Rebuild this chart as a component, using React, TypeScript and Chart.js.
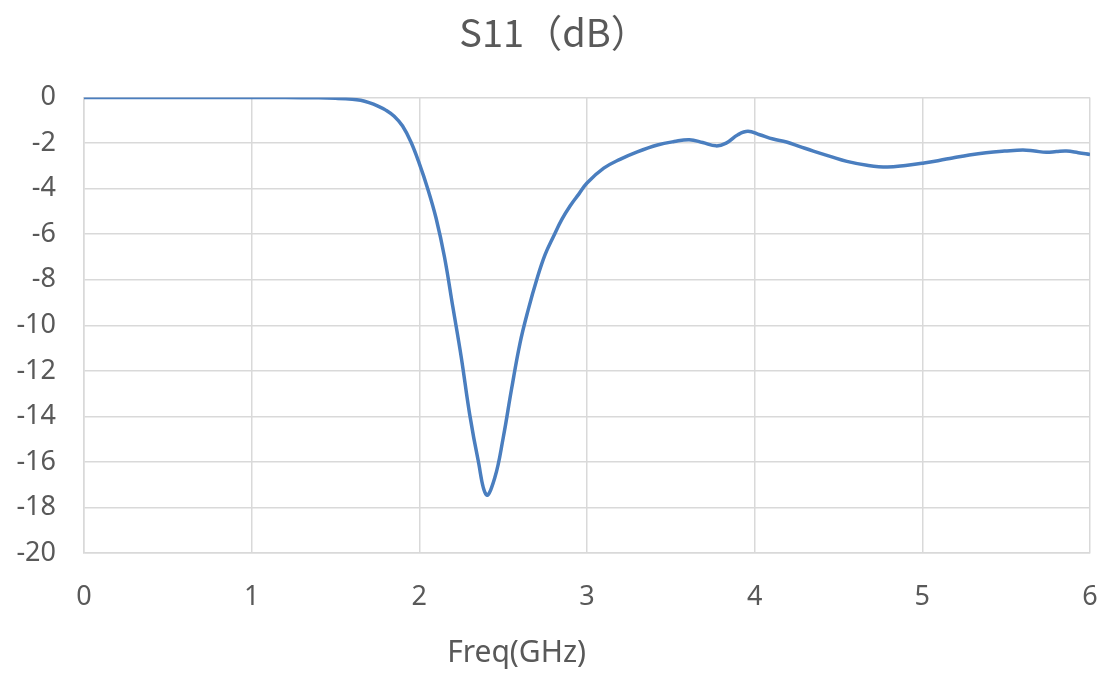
import React, { useEffect, useRef } from "react";
import { Chart, registerables } from "chart.js";

Chart.register(...registerables);

const freqGHz: number[] = [
  0, 0.4, 0.8, 1.2, 1.4, 1.5, 1.6, 1.65, 1.7, 1.75, 1.8, 1.85, 1.9, 1.95, 2.0, 2.05, 2.1,
  2.15, 2.2, 2.25, 2.3, 2.35, 2.4, 2.45, 2.5, 2.55, 2.6, 2.65, 2.7, 2.75, 2.8, 2.85, 2.9,
  2.95, 3.0, 3.1, 3.2, 3.3, 3.42, 3.52, 3.61, 3.69, 3.77, 3.83, 3.9, 3.96, 4.03, 4.11, 4.19,
  4.27, 4.35, 4.45, 4.55, 4.67, 4.79, 4.9, 5.01, 5.1, 5.18, 5.28, 5.38, 5.49, 5.6, 5.67,
  5.74, 5.8, 5.86, 5.93, 6.0,
];
const s11dB: number[] = [
  0, 0, 0, 0, -0.01, -0.03, -0.07, -0.12, -0.22, -0.36, -0.55, -0.82, -1.25, -1.95, -2.9,
  -4.0, -5.3, -7.0, -9.2, -11.4, -13.9, -15.9, -17.45, -16.7, -14.95, -12.8, -10.8, -9.3,
  -8.0, -6.9, -6.1, -5.35, -4.75, -4.25, -3.75, -3.1, -2.7, -2.38, -2.08, -1.93, -1.85,
  -1.97, -2.12, -2.0, -1.63, -1.48, -1.63, -1.82, -1.95, -2.15, -2.35, -2.58, -2.8, -2.97,
  -3.05, -2.98, -2.87, -2.76, -2.65, -2.52, -2.42, -2.35, -2.3, -2.35, -2.4, -2.37, -2.35,
  -2.42, -2.5,
];

const titleText = "S11（dB）";
const xAxisTitle = "Freq(GHz)";

const textColor = "#595959";
const gridColor = "#d9d9d9";
const lineColor = "#4a7ebf";
const tickFont = "'Noto Sans', 'DejaVu Sans', sans-serif";

const axisTitlePlugin = {
  id: "xAxisTitleText",
  afterDraw(chart: any) {
    const { ctx, chartArea } = chart;
    ctx.save();
    ctx.fillStyle = textColor;
    ctx.font = `30px ${tickFont}`;
    ctx.textAlign = "center";
    ctx.textBaseline = "middle";
    ctx.fillText(xAxisTitle, chartArea.left + chartArea.width * 0.43, chartArea.bottom + 100);
    ctx.restore();
  },
};

export default function App() {
  const canvasRef = useRef<HTMLCanvasElement | null>(null);

  useEffect(() => {
    if (!canvasRef.current) return;
    const points = freqGHz.map((f, i) => ({ x: f, y: s11dB[i] }));
    const chart = new Chart(canvasRef.current, {
      type: "line",
      data: {
        datasets: [
          {
            label: "S11",
            data: points,
            borderColor: lineColor,
            borderWidth: 3.5,
            pointRadius: 0,
            tension: 0.4,
            fill: false,
          },
        ],
      },
      options: {
        responsive: false,
        animation: false,
        layout: { padding: { left: 0, right: 0, top: 0, bottom: 0 } },
        plugins: {
          legend: { display: false },
          tooltip: { enabled: false },
          title: {
            display: true,
            text: titleText,
            color: textColor,
            font: { family: "'Noto Sans CJK SC', 'Noto Sans', sans-serif", size: 38, weight: "normal" },
            padding: { top: 10, bottom: 42 },
          },
        },
        scales: {
          x: {
            type: "linear",
            min: 0,
            max: 6,
            ticks: {
              stepSize: 1,
              color: textColor,
              font: { family: tickFont, size: 27 },
              padding: 28,
            },
            grid: { color: gridColor, lineWidth: 1.5, drawTicks: false },
            border: { color: gridColor, width: 1.5 },
            afterFit: (scale: any) => {
              scale.height = 120;
              scale.paddingRight = 18;
              scale.paddingLeft = 8;
            },
          },
          y: {
            type: "linear",
            min: -20,
            max: 0,
            ticks: {
              stepSize: 2,
              color: textColor,
              font: { family: tickFont, size: 27 },
              padding: 28,
            },
            grid: { color: gridColor, lineWidth: 1.5, drawTicks: false },
            border: { color: gridColor, width: 1.5 },
            afterFit: (scale: any) => {
              scale.width = 84;
            },
          },
        },
      },
      plugins: [axisTitlePlugin],
    });
    return () => chart.destroy();
  }, []);

  return (
    <div style={{ position: "absolute", left: 0, top: 0, width: 1108, height: 673, background: "#fff" }}>
      <canvas ref={canvasRef} width={1108} height={673} />
    </div>
  );
}
